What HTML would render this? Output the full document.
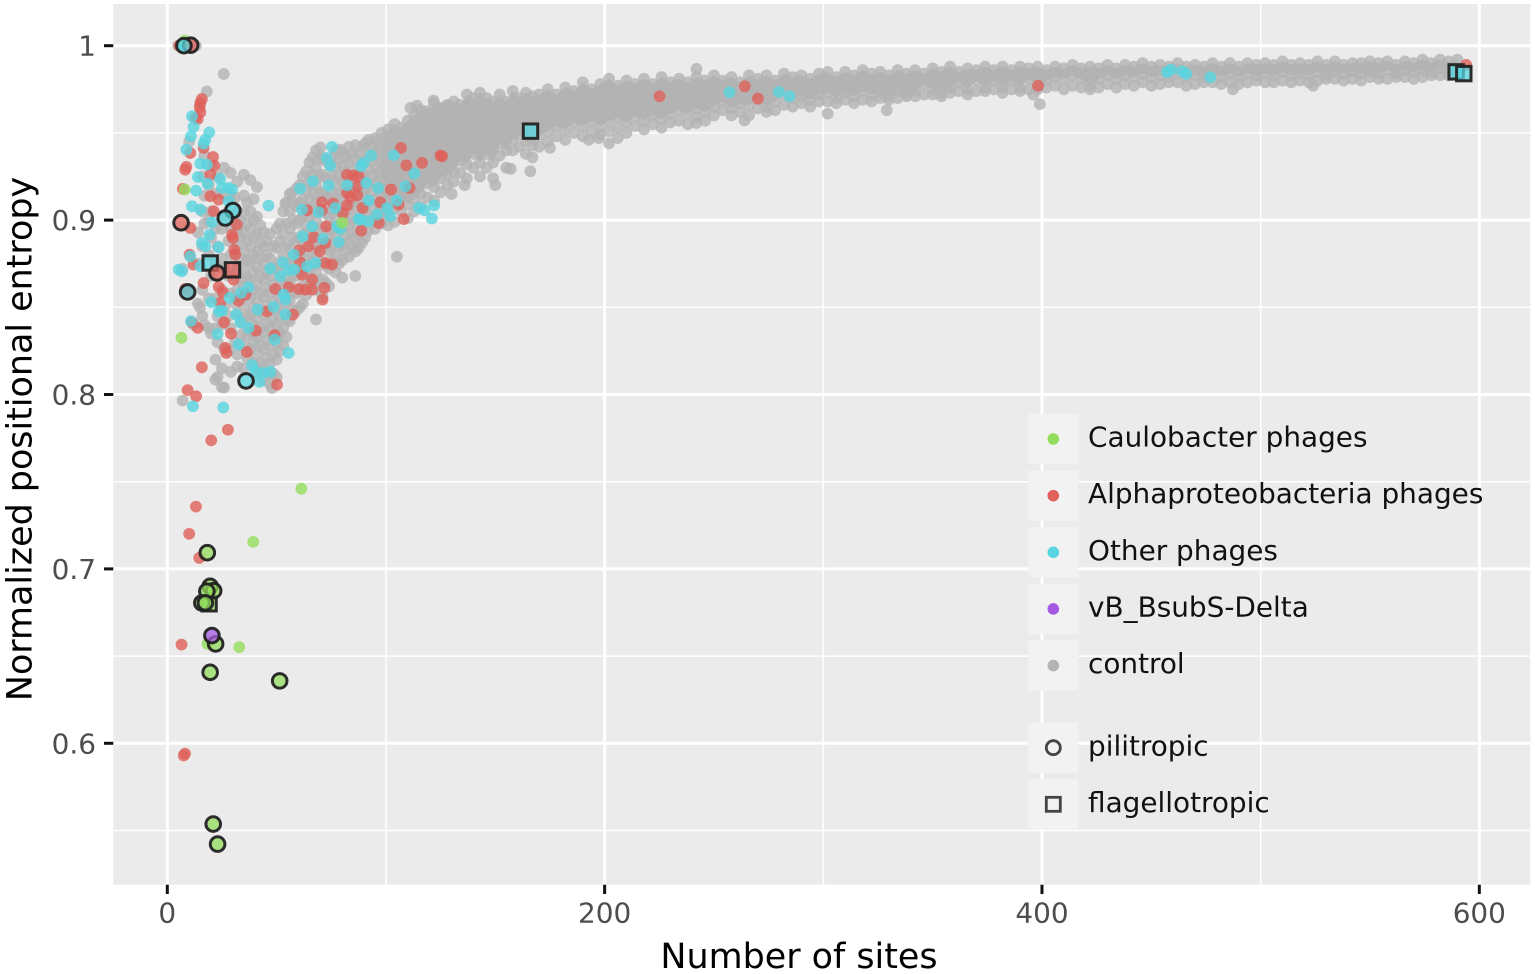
<!DOCTYPE html>
<html lang="en">
<head>
<meta charset="utf-8">
<title>Normalized positional entropy vs number of sites</title>
<style>
html,body{margin:0;padding:0;background:#fff}
svg{display:block;font-family:"DejaVu Sans","Liberation Sans",sans-serif}
</style>
</head>
<body>
<svg id="chart" xmlns="http://www.w3.org/2000/svg" width="1535" height="974" viewBox="0 0 1535 974">
  <rect x="0" y="0" width="1535" height="974" fill="#ffffff"/>
  <rect x="113.3" y="4" width="1417" height="880.7" fill="#EBEBEB"/>
  <g id="grid"></g>
  <g id="marks"></g>
  <g id="axes"></g>
  <text x="799" y="968" font-size="34.9" text-anchor="middle" fill="#000">Number of sites</text>
  <text transform="translate(31.7,439) rotate(-90)" font-size="34.9" text-anchor="middle" fill="#000">Normalized positional entropy</text>
  <g id="legend"></g>
</svg>
<script>
const xTicks = [0, 200, 400, 600];
const xMinorTicks = [100, 300, 500];
const yTicks = [1, 0.9, 0.8, 0.7, 0.6];
const yTickLabels = ['1', '0.9', '0.8', '0.7', '0.6'];
const yMinorTicks = [0.95, 0.85, 0.75, 0.65, 0.55];
const legendGroups = ['Caulobacter phages', 'Alphaproteobacteria phages', 'Other phages', 'vB_BsubS-Delta', 'control'];
const legendShapes = ['pilitropic', 'flagellotropic'];
const denseFromSites = 98;

// control: each row is a number of sites, followed by the entropy values read at that x
const controlRows = [
[14,[.893,.875,.852]],[17,[.937,.914,.898,.84]],[20,[.931,.905,.890,.868,.835]],[23,[.925,.885,.845,.830,.810]],
[26,[.930,.902,.872,.850,.826,.804]],[29,[.927,.913,.896,.880,.858,.838,.813]],[32,[.922,.905,.895,.885,.872,.860,.846,.823,.816]],
[35,[.926,.914,.904,.893,.882,.872,.862,.851,.840,.828,.815]],[38,[.923,.905,.895,.885,.876,.866,.856,.846,.836,.826]],
[41,[.919,.902,.892,.882,.873,.863,.853,.843,.833,.823,.812]],[44,[.893,.885,.875,.866,.856,.846,.836,.826,.815,.808]],
[47,[.892,.878,.868,.858,.848,.838,.828,.818,.806]],[50,[.895,.884,.872,.860,.850,.840,.830,.820,.810]],
[53,[.905,.892,.880,.870,.858,.848,.838,.828]],[56,[.915,.905,.895,.884,.874,.864,.854,.842]],
[59,[.918,.908,.898,.888,.878,.868,.858,.848]],[62,[.925,.912,.902,.892,.882,.872,.862,.852]],
[65,[.933,.922,.912,.902,.892,.882,.872,.862]],[68,[.940,.930,.920,.910,.900,.890,.880,.870,.860]],
[71,[.936,.926,.916,.906,.896,.886,.876,.866,.856]],[74,[.932,.922,.912,.902,.892,.882,.872,.862]],
[77,[.940,.930,.920,.910,.900,.890,.880,.870]],[80,[.939,.931,.922,.913,.904,.895,.886,.877,.867]],
[83,[.942,.933,.924,.915,.906,.897,.888,.879]],[86,[.943,.935,.926,.917,.908,.899,.890,.882]],
[89,[.942,.932,.923,.914,.905,.896,.887]],[92,[.946,.938,.929,.920,.911,.902,.894]],[95,[.947,.939,.930,.921,.912,.903,.895]],
[98,[.950,.942,.933,.924,.915,.906,.898]],[101,[.952,.944,.936,.928,.920,.912,.904,.897]],
[104,[.955,.947,.939,.931,.923,.915,.907,.899]],[107,[.953,.945,.937,.929,.921,.913,.905]],
[110,[.957,.949,.941,.933,.925,.917,.909,.901]],[113,[.960,.952,.944,.936,.928,.920,.912,.905]],
[116,[.963,.955,.947,.939,.931,.923,.915,.908]],[119,[.961,.953,.945,.937,.929,.921,.913]],
[122,[.967,.959,.951,.943,.935,.927,.919,.911]],[125,[.964,.956,.948,.940,.932,.924,.916]],
[128,[.966,.958,.950,.942,.934,.926,.920]],[131,[.968,.960,.952,.944,.936,.928,.922]],[134,[.966,.958,.950,.942,.934,.927]],
[137,[.972,.964,.956,.948,.940,.932,.924]],[140,[.970,.962,.954,.946,.938,.930]],[143,[.973,.965,.957,.949,.941,.933,.925]],
[146,[.970,.962,.954,.946,.938,.930]],[149,[.968,.961,.954,.947,.940,.933,.924]],[152,[.972,.965,.958,.951,.944,.937]],
[155,[.968,.961,.954,.947,.940,.930]],[158,[.974,.967,.960,.953,.946,.940]],[161,[.970,.963,.956,.949,.942]],
[164,[.973,.966,.959,.952,.945,.938]],[167,[.971,.964,.957,.950,.943,.936]],
[170,[.972,.966,.960,.954,.948,.942]],[174,[.975,.969,.963,.957,.951,.945]],[178,[.972,.966,.960,.954,.948]],
[182,[.976,.970,.964,.958,.952,.946]],[186,[.974,.968,.962,.956,.950]],[190,[.979,.972,.966,.960,.954,.948]],
[194,[.975,.969,.963,.957,.951]],[198,[.978,.972,.966,.960,.954,.949]],[202,[.981,.975,.969,.963,.957,.951]],
[206,[.977,.971,.965,.959,.953]],[210,[.980,.974,.968,.962,.956,.950]],[214,[.978,.972,.966,.960,.954]],
[218,[.981,.975,.969,.963,.957,.952]],[222,[.978,.972,.966,.960,.955]],[226,[.982,.976,.970,.964,.958,.953]],
[230,[.979,.973,.967,.961,.956]],[234,[.981,.975,.969,.963,.957]],[238,[.979,.973,.967,.961,.955]],
[242,[.982,.976,.970,.964,.959]],[246,[.980,.974,.968,.962,.957]],[250,[.983,.977,.971,.965,.960]],
[254,[.980,.974,.968,.963]],[258,[.982,.976,.970,.964,.960]],[262,[.979,.973,.967,.962]],[266,[.983,.977,.971,.966,.960]],
[270,[.981,.975,.969,.964]],[274,[.983,.977,.971,.965,.962]],[278,[.980,.974,.968,.963]],[282,[.984,.978,.972,.966]],
[286,[.982,.976,.970,.965]],[290,[.983,.977,.971,.967]],[294,[.981,.975,.969,.965]],[298,[.984,.978,.972,.968]],
[302,[.985,.979,.973,.968]],[306,[.982,.976,.970,.967]],[310,[.985,.979,.973,.969]],[314,[.983,.977,.971,.967]],
[318,[.986,.980,.974,.969]],[322,[.984,.978,.972,.968]],[326,[.985,.979,.973,.970]],[330,[.983,.977,.971,.969]],
[334,[.986,.980,.974,.970]],[338,[.984,.978,.972,.971]],[342,[.986,.980,.974,.971]],[346,[.984,.978,.972]],
[350,[.987,.981,.975,.972]],[354,[.985,.979,.973,.971]],[358,[.988,.982,.976,.973]],[362,[.985,.979,.974]],
[366,[.987,.981,.975,.972]],[370,[.986,.980,.974]],[374,[.988,.982,.976,.974]],[378,[.986,.980,.975]],
[382,[.988,.982,.976,.973]],[386,[.986,.980,.975]],[390,[.988,.982,.976,.974]],[394,[.987,.981,.975]],
[398,[.988,.982,.977,.975]],[402,[.986,.980,.976]],[406,[.988,.982,.977]],[410,[.987,.981,.975]],
[414,[.989,.983,.977]],[418,[.987,.981,.976]],[422,[.988,.982,.977,.975]],[426,[.987,.981,.976]],
[430,[.989,.983,.978]],[434,[.987,.981,.976]],[438,[.989,.983,.978]],[442,[.988,.982,.977]],
[446,[.990,.984,.979]],[450,[.988,.982,.977]],[454,[.989,.983,.978]],[458,[.988,.982,.979]],
[462,[.990,.984,.979]],[466,[.988,.982,.977]],[470,[.989,.983,.978]],[474,[.988,.982,.979]],
[478,[.990,.984,.979]],[482,[.988,.982,.978]],[486,[.990,.984,.979]],[490,[.988,.982,.978]],
[494,[.990,.984,.979]],[498,[.989,.983,.980]],[502,[.990,.984,.979]],[506,[.989,.983,.979]],
[510,[.991,.985,.980]],[514,[.989,.983,.979]],[518,[.990,.984,.980]],[522,[.989,.983,.979]],
[526,[.991,.985,.980]],[530,[.989,.983,.981]],[534,[.991,.985,.981]],[538,[.989,.984,.980]],
[542,[.990,.985,.981]],[546,[.990,.984,.980]],[550,[.991,.985,.982]],[554,[.990,.984,.981]],
[558,[.991,.986,.981]],[562,[.989,.984,.982]],[566,[.991,.986,.982]],[570,[.990,.985,.981]],
[574,[.992,.986,.982]],[578,[.990,.985,.983]],[582,[.992,.987,.983]],[586,[.991,.986,.983]],[590,[.992,.987,.984]]
];
const controlInfillRows = [
[16,[.925,.905,.885,.860,.845]],[19,[.920,.900,.880,.855,.838]],[22,[.915,.895,.875,.855,.838,.820]],
[25,[.915,.895,.878,.860,.840,.815]],[28,[.905,.888,.868,.845,.825]],[31,[.913,.900,.880,.852,.830]],
[33.5,[.900,.890,.878,.866,.855,.843,.834]],[36.5,[.910,.898,.888,.877,.867,.857,.845,.834,.821]],
[39.5,[.912,.900,.890,.880,.870,.860,.850,.840,.830,.818]],[42.5,[.897,.887,.878,.868,.858,.848,.838,.828,.818]],
[45.5,[.888,.880,.870,.861,.851,.841,.831,.821,.811]],[48.5,[.885,.873,.863,.853,.843,.833,.823,.812]],
[51.5,[.898,.888,.876,.865,.855,.845,.835,.825]],[54.5,[.910,.898,.886,.875,.864,.853,.843,.833]],
[57.5,[.910,.900,.890,.879,.869,.859,.848]],[60.5,[.920,.910,.900,.890,.880,.870,.860,.850]],
[63.5,[.928,.917,.907,.897,.887,.877,.867,.857]],[66.5,[.936,.926,.916,.906,.896,.886,.876,.866]],
[69.5,[.935,.925,.915,.905,.895,.885,.875,.865]],[72.5,[.934,.924,.914,.904,.894,.884,.874,.864]],
[75.5,[.936,.926,.916,.906,.896,.886,.876]],[78.5,[.935,.925,.915,.905,.895,.885,.875]],
[81.5,[.936,.927,.918,.909,.900,.891,.882]],[84.5,[.938,.929,.920,.911,.902,.893,.884]],
[87.5,[.938,.928,.919,.910,.901,.892,.884]],[90.5,[.944,.934,.925,.916,.907,.898,.890]],
[93.5,[.942,.934,.925,.916,.907,.899]],[96.5,[.945,.936,.927,.918,.909,.901]],[99.5,[.947,.939,.930,.921,.912,.903]]
];
const controlOutliers = [[5,1.0],[13,1.0],[25.8,.9838],[18.1,.9738],[7,.7965],[25,.8041],[22,.8085],[47.9,.8037],[86,.868],[105,.879],[68,.843],
[10,.945],[70,.9417],[79,.9404],[111.2,.9643],[114.2,.9656],[118.8,.9624],[121.8,.9685],[124.9,.9643],[128.7,.9656],[57,.9156],[54,.9095],
[157,.9294],[166,.928],[175,.9414],[192.8,.946],[197.3,.947],[202,.944],[206,.947],[242,.9867],[242,.9557],[264,.9572],[302,.961],
[399,.9665],[396,.972],[329,.963],[524,.977],[487.3,.975],[7,.872],[12,.84],[15,.85],[130,.915],[136,.92],[150,.92]];

const caulobacterPoints = [[61.3,.746],[39.3,.7155],[18.4,.657],[32.9,.6551],[8,.9175],[6.5,.8325],[80,.8985],[8,1.003]];
const alphaPoints = [[15.8,.9694],[15.1,.9672],[14.8,.9649],[15.1,.9618],[12.8,.9586],[13.9,.958],[16.6,.9414],[10.5,.9385],[20.9,.9362],[21.5,.9312],[8.7,.9305],[8.2,.9289],[19.7,.9261],[7.1,.9179],
[82.2,.926],[85.2,.9255],[87.5,.9251],[86.8,.9194],[106.9,.9414],[109.3,.9314],[116.5,.9328],[124.9,.937],[102.3,.9175],[110.8,.9184],[82.2,.9156],[86.8,.9142],[83.7,.913],[70.7,.9102],[75.8,.9095],[63.9,.9056],[70.7,.9056],[82.2,.9083],[80.3,.9041],[89.3,.907],[97.4,.9102],[105.8,.9089],[19.7,.9137],[23.5,.9118],[21.2,.9051],
[10.5,.8955],[31.8,.8974],[29.6,.8916],[30,.8897],[30.6,.883],[31.1,.8802],[10.2,.8802],[12,.8745],[30.3,.8659],[16.6,.8639],[23.5,.8617],[25.4,.8586],[35.7,.8573],[32.6,.8538],[24.2,.8525],[8.2,.8605],[9.7,.8592],[72.7,.8964],[88.7,.8939],[96.7,.8983],[108.1,.9006],[66.9,.8903],[72.3,.8869],[64.6,.885],[60.4,.8827],[69.7,.8821],[60.8,.8758],[72.3,.8754],[75.3,.8745],[61.6,.8687],[66.2,.8659],[49.4,.8605],[55.5,.8615],[60.1,.8605],[63.1,.8601],[66.2,.8601],[71.8,.8611],[71,.8544],[45.6,.8477],[57.5,.8458],[11.3,.8414],[13.9,.8382],[26,.8414],[29.1,.8349],[40.5,.8366],[49.1,.834],[26.5,.8267],[27,.8238],[36.4,.8244],[15.8,.8156],[50.2,.8057],[9.3,.8025],[13.2,.799],
[27.7,.7798],[20.1,.7737],[13.1,.7357],[10,.7201],[14.6,.7063],[6.5,.6566],[7.5,.593],[8.1,.5941],[225.1,.971],[264.1,.9767],[270.1,.9697],[125.7,.9366],[398.2,.977],[594,.989],[5.5,1.0],[9,1.0]];
const otherPoints = [[75.3,.942],[73,.9356],[74.5,.9312],[88.6,.9309],[89.8,.9328],[93.2,.937],[103.5,.9372],[113,.9267],[66.6,.9223],[60.8,.918],[73.8,.9198],[82.2,.92],[91,.9213],[96.4,.9184],[108.9,.9194],[46.3,.9083],[11.3,.9595],[12,.9534],[10.8,.948],[19.2,.9503],[17.4,.9461],[16.6,.9438],[8.7,.9404],[15.1,.9324],[18.1,.9318],[14,.9247],[18.4,.9209],[24.2,.9236],[13.2,.9169],[25,.9185],[28,.9185],[29.6,.9175],[11.3,.9079],[15.1,.906],[28,.9108],[115,.907],[117.6,.9057],[122.1,.9085],[121,.9009],[61.6,.906],[69.2,.9045],[76.8,.907],[92.1,.9112],[100.5,.907],[105,.9112],[95.9,.9032],[87.5,.9007],[102,.9022],
[88.3,.9002],[92.1,.8993],[77.6,.8964],[79.1,.8949],[66.2,.8964],[61.9,.8907],[71.2,.8892],[78.4,.8874],[20.4,.8987],[19.3,.8916],[15.8,.8869],[17.4,.885],[23.5,.8844],[10.5,.8792],[5.2,.8716],[6.7,.8706],[15.1,.8735],[52.9,.8758],[57.8,.8802],[47.1,.8722],[51.7,.8678],[55.5,.8712],[58.1,.8716],[63.9,.8735],[67.7,.8754],[37.2,.8615],[33.7,.8582],[28.5,.8554],[54,.8544],[53.2,.8573],[20,.8529],[23.5,.8477],[25,.8481],[41.3,.8487],[48.6,.8502],[54,.8458],[31.5,.8458],[33.4,.8414],[37.2,.8382],[23,.8347],[32.6,.8286],[55.5,.8238],[49.1,.8315],[38.7,.8168],[40.2,.8133],[44.1,.8124],[47.1,.813],[42.1,.8072],[10.8,.842],[11.7,.7932],[25.6,.7925],
[257.1,.9733],[279.7,.9735],[284.6,.971],[457.2,.9848],[459,.9863],[464,.9853],[466,.9838],[477,.9819],[7,1.0]];
const pilitropicCaulobacter = [[18.3,.7093],[19.6,.69],[21.2,.6875],[18.1,.6872],[15.8,.6805],[17.4,.6805],[22.1,.657],[19.6,.6407],[51.4,.6358],[21,.5537],[23,.5422]];
const pilitropicAlpha = [[6.3,.8985],[22.7,.8697],[10.7,1.0003]];
const pilitropicOther = [[7.6,1.0],[30,.9055],[26.5,.9012],[9.3,.8588],[36,.8078]];
const pilitropicDelta = [[20.4,.6618]];
const flagellotropicOther = [[166.1,.951],[19.6,.8754],[589.4,.985],[592.9,.984]];
const flagellotropicAlpha = [[29.8,.8715]];
const flagellotropicCaulobacter = [[19.1,.68]];

const SVGNS = 'http://www.w3.org/2000/svg';
const COLORS = {caulobacter:'#93DD5C', alpha:'#E0605A', other:'#58D5E0', delta:'#A45AE0', control:'#B3B3B3'};
function xPos(v){ return 167.3 + v * 2.1867; }
function yPos(v){ return 45.7 + (1 - v) * 1744; }
function make(tag, parent, attrs){
  const el = document.createElementNS(SVGNS, tag);
  for (const k in attrs) el.setAttribute(k, attrs[k]);
  parent.appendChild(el);
  return el;
}
const grid = document.getElementById('grid');
const marks = document.getElementById('marks');
const axes = document.getElementById('axes');
const legend = document.getElementById('legend');

function gridLine(x1, y1, x2, y2, w, label){
  const el = make('line', grid, {x1:x1, y1:y1, x2:x2, y2:y2, stroke:'#fff', 'stroke-width':w});
  
  
}
yMinorTicks.forEach(v => gridLine(113.3, yPos(v), 1530.3, yPos(v), 1.5, 'y-minor-gridline'));
xMinorTicks.forEach(v => gridLine(xPos(v), 4, xPos(v), 884.7, 1.5, 'x-minor-gridline'));
yTicks.forEach(v => gridLine(113.3, yPos(v), 1530.3, yPos(v), 3, 'y-major-gridline'));
xTicks.forEach(v => gridLine(xPos(v), 4, xPos(v), 884.7, 3, 'x-major-gridline'));

function tickMark(x1, y1, x2, y2, label){
  const el = make('line', axes, {x1:x1, y1:y1, x2:x2, y2:y2, stroke:'#111', 'stroke-width':3});
  
  
}
function tickText(x, y, anchor, str, label){
  const el = make('text', axes, {x:x, y:y, 'text-anchor':anchor, 'font-size':27.9, fill:'#4D4D4D'});
  el.textContent = str;
  
  
}
xTicks.forEach(v => {
  tickMark(xPos(v), 884.7, xPos(v), 894, 'x-axis-tick');
  tickText(xPos(v), 922.3, 'middle', String(v), 'x-tick-label');
});
yTicks.forEach((v, i) => {
  tickMark(104, yPos(v), 113.3, yPos(v), 'y-axis-tick');
  tickText(96, yPos(v) + 10, 'end', yTickLabels[i], 'y-tick-label');
});

function dot(p, color, label){
  const el = make('circle', marks, {cx:xPos(p[0]), cy:yPos(p[1]), r:5.9, fill:color, 'fill-opacity':0.8});
  
  
}
function ring(p, color, label){
  const el = make('circle', marks, {cx:xPos(p[0]), cy:yPos(p[1]), r:7.3, fill:color, 'fill-opacity':0.75, stroke:'#222', 'stroke-width':3, 'stroke-opacity':0.95});
  
  
}
function box(p, color, label){
  const el = make('rect', marks, {x:xPos(p[0]) - 7.2, y:yPos(p[1]) - 7.2, width:14.4, height:14.4, fill:color, 'fill-opacity':0.75, stroke:'#222', 'stroke-width':3, 'stroke-opacity':0.95});
  
  
}
// Solid core of the overplotted control cloud, traced through the upper and lower values of each row
const denseRows = controlRows.filter(r => r[0] >= denseFromSites);
const upperEdge = denseRows.map(r => xPos(r[0]) + ',' + yPos(r[1][0]));
const lowerEdge = denseRows.map(r => xPos(r[0]) + ',' + yPos(r[1][r[1].length - 2])).reverse();
const coreEl = make('polygon', marks, {points:upperEdge.concat(lowerEdge).join(' '), fill:COLORS.control});



controlRows.forEach(row => row[1].forEach(v => dot([row[0], v], COLORS.control, 'control-point')));
controlInfillRows.forEach(row => row[1].forEach(v => dot([row[0], v], COLORS.control, 'control-point')));
controlOutliers.forEach(p => dot(p, COLORS.control, 'control-point'));
alphaPoints.forEach(p => dot(p, COLORS.alpha, 'alphaproteobacteria-phage-point'));
otherPoints.forEach(p => dot(p, COLORS.other, 'other-phage-point'));
caulobacterPoints.forEach(p => dot(p, COLORS.caulobacter, 'caulobacter-phage-point'));
flagellotropicCaulobacter.forEach(p => box(p, COLORS.caulobacter, 'flagellotropic-caulobacter-point'));
flagellotropicOther.forEach(p => box(p, COLORS.other, 'flagellotropic-other-point'));
flagellotropicAlpha.forEach(p => box(p, COLORS.alpha, 'flagellotropic-alpha-point'));
pilitropicCaulobacter.forEach(p => ring(p, COLORS.caulobacter, 'pilitropic-caulobacter-point'));
pilitropicAlpha.forEach(p => ring(p, COLORS.alpha, 'pilitropic-alpha-point'));
pilitropicOther.forEach(p => ring(p, COLORS.other, 'pilitropic-other-point'));
pilitropicDelta.forEach(p => ring(p, COLORS.delta, 'pilitropic-delta-point'));

const groupColors = [COLORS.caulobacter, COLORS.alpha, COLORS.other, COLORS.delta, COLORS.control];
function legendRow(i, str, drawSymbol, top, baseline){
  const bg = make('rect', legend, {x:1028.3, y:top, width:50, height:50, fill:'#F2F2F2'});
  
  
  drawSymbol(top + 25);
  const t = make('text', legend, {x:1088, y:baseline, 'font-size':27.9, fill:'#111'});
  t.textContent = str;
  
  
}
legendGroups.forEach((g, i) => {
  legendRow(i, g, cy => {
    const c = make('circle', legend, {cx:1053.3, cy:cy, r:5.8, fill:groupColors[i]});
    
    
  }, 414 + i * 56.65, 446.5 + i * 56.65);
});
legendRow(0, legendShapes[0], cy => {
  const c = make('circle', legend, {cx:1053.3, cy:cy, r:7, fill:'none', stroke:'#444', 'stroke-width':2.8});
  
  
}, 722.7, 755.7);
legendRow(1, legendShapes[1], cy => {
  const r = make('rect', legend, {x:1046.3, y:cy - 7, width:14, height:14, fill:'none', stroke:'#444', 'stroke-width':2.8});
  
  
}, 779.3, 812);
</script>
</body>
</html>
